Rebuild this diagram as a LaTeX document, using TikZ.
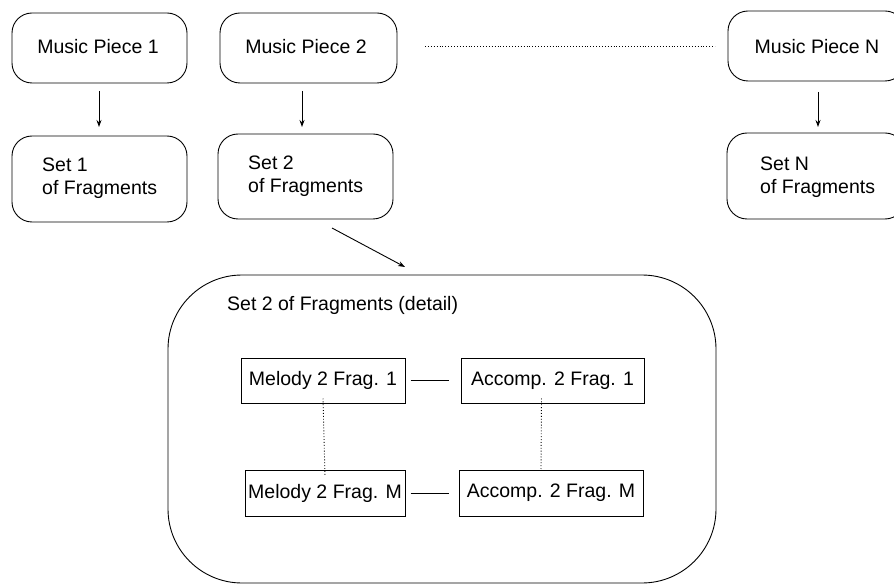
\documentclass[tikz,border=0pt]{standalone}
\usepackage{fontspec}
\setmainfont{Liberation Sans}
\usetikzlibrary{arrows.meta}
\begin{document}
\begin{tikzpicture}[x=1pt,y=-1pt,
  rbox/.style={draw,rounded corners=20pt,line width=0.9pt},
  sbox/.style={draw,line width=1pt},
  txt/.style={font=\fontsize{19.5}{23}\selectfont,inner sep=0pt},
  arr/.style={-{Stealth[length=7pt,width=5pt]},line width=0.9pt},
  dotl/.style={dotted,line width=0.9pt}]
\useasboundingbox (0,0) rectangle (894,585);
% top row
\draw[rbox] (12,13) rectangle (187,83);
\node[txt] (mp1) at (98,47) {Music Piece 1};
\coordinate (mp1b) at (99,91);
\draw[rbox] (220,13) rectangle (397,83);
\node[txt] (mp2) at (306,47) {Music Piece 2};
\coordinate (mp2b) at (302,91);
\draw[rbox] (728,11) rectangle (905,81);
\node[txt] (mpn) at (817,47) {Music Piece N};
\coordinate (mpnb) at (818,92);
\coordinate (dl) at (425,46);
\coordinate (dr) at (715,46);
\draw[dotl] (dl) -- (dr);
% sets
\draw[rbox] (12,136) rectangle (187,222);
\node[txt,align=left,anchor=west] (s1) at (42,178) {Set 1\\of Fragments};
\coordinate (s1t) at (99,127);
\draw[rbox] (218,134) rectangle (393,219);
\node[txt,align=left,anchor=west] (s2) at (248,176) {Set 2\\of Fragments};
\coordinate (s2t) at (302,127);
\draw[rbox] (727,133) rectangle (905,219);
\node[txt,align=left,anchor=west] (sn) at (760,177) {Set N\\of Fragments};
\coordinate (snt) at (818,127);
\draw[arr] (mp1b) -- (s1t);
\draw[arr] (mp2b) -- (s2t);
\draw[arr] (mpnb) -- (snt);
% detail
\draw[line width=0.9pt,rounded corners=74pt] (168,275) rectangle (716,583);
\coordinate (s2o) at (332,228);
\coordinate (dtop) at (405,267);
\draw[arr] (s2o) -- (dtop);
\node[txt,anchor=west] (title) at (227,305) {Set 2 of Fragments (detail)};
\node[sbox,txt,minimum width=164pt,minimum height=45pt] (m1) at (323,380.5) {Melody 2 Frag. 1};
\node[sbox,txt,minimum width=183pt,minimum height=45pt] (a1) at (552.5,380.5) {Accomp. 2 Frag. 1};
\node[sbox,txt,minimum width=160pt,minimum height=46pt] (mm) at (325,493) {Melody 2 Frag. M};
\node[sbox,txt,minimum width=184pt,minimum height=46pt] (am) at (551,493) {Accomp. 2 Frag. M};
\draw[line width=0.9pt] ([xshift=5pt]m1.east) -- ([xshift=-12pt]a1.west);
\draw[line width=0.9pt] ([xshift=5pt]mm.east) -- ([xshift=-10pt]am.west);
\draw[dotl] ([yshift=5pt]m1.south) -- ([yshift=-7pt]mm.north);
\draw[dotl] ([yshift=5pt,xshift=-11pt]a1.south) -- ([xshift=-10pt]am.north);
\end{tikzpicture}
\end{document}
